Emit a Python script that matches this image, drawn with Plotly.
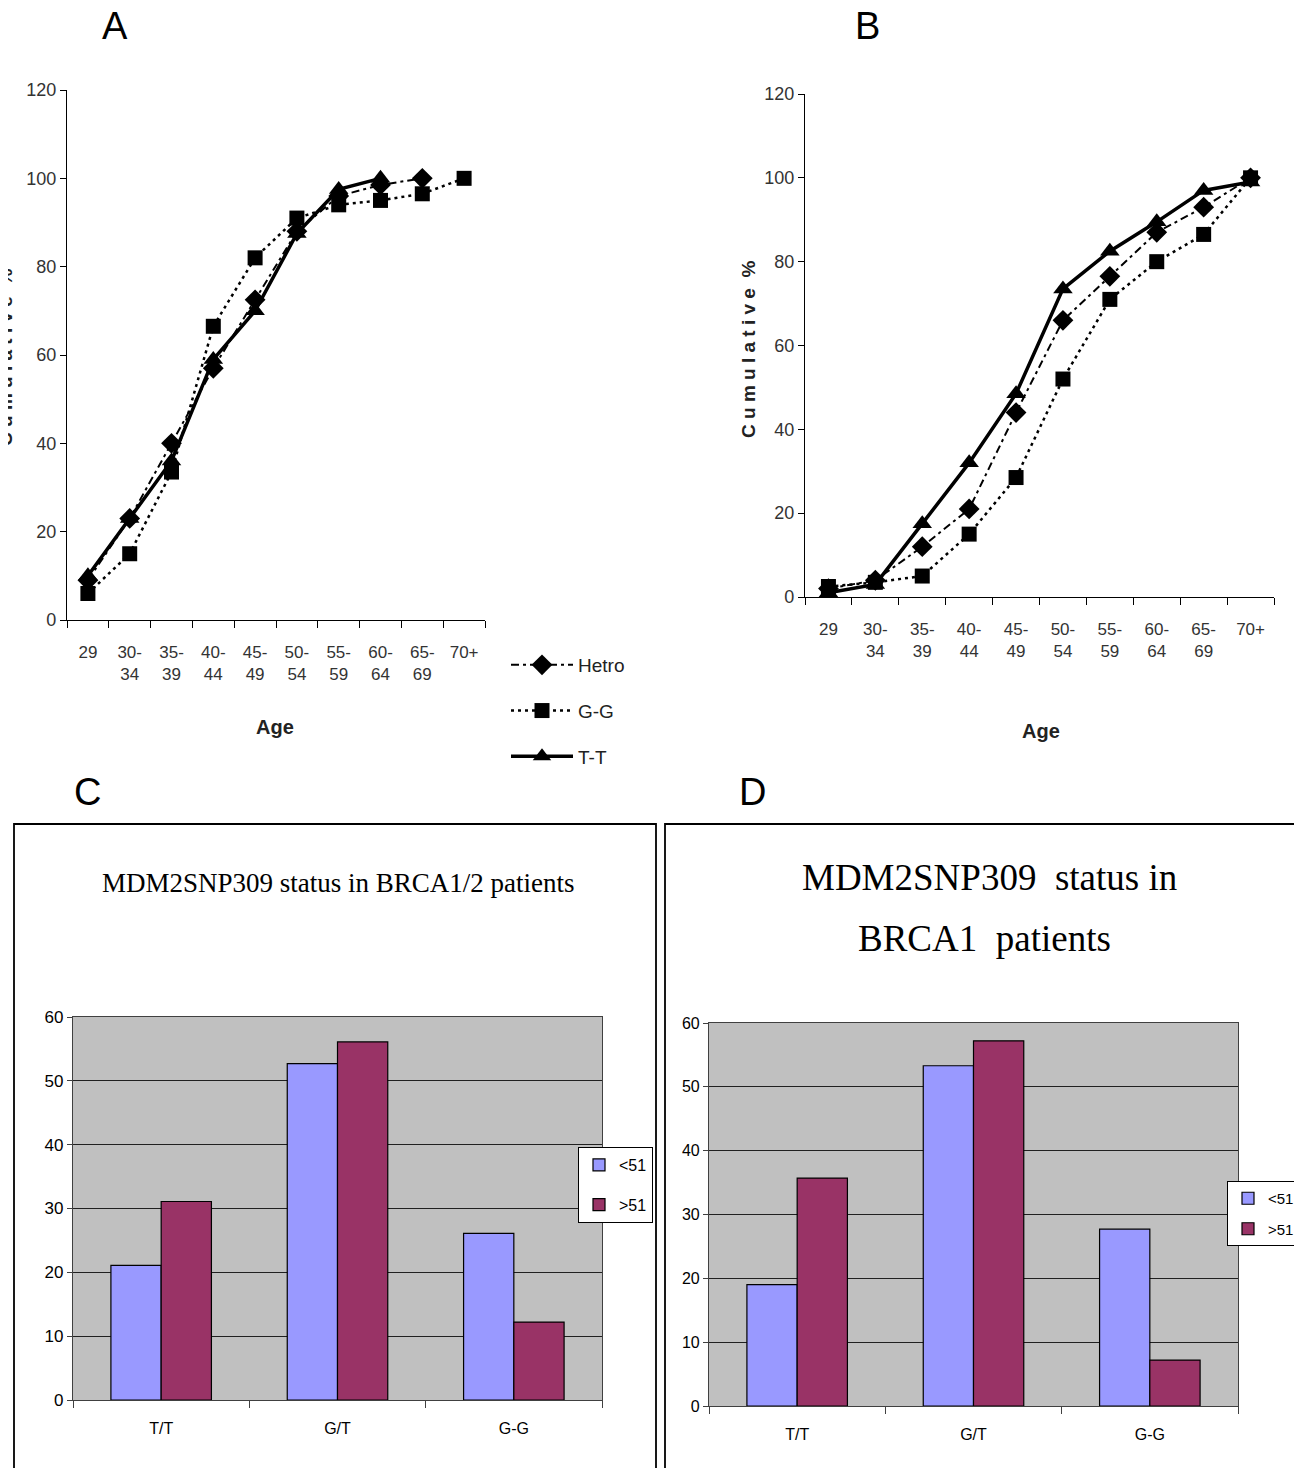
import plotly.graph_objects as go

W, H = 1302, 1468
OFF = 8  # the page body adds an 8px margin; positions below are in screenshot pixels

# ---------------- data ----------------
age_cats = ["29", "30-34", "35-39", "40-44", "45-49", "50-54", "55-59", "60-64", "65-69", "70+"]
age_ticktext = ["29", "30-<br>34", "35-<br>39", "40-<br>44", "45-<br>49", "50-<br>54",
                "55-<br>59", "60-<br>64", "65-<br>69", "70+"]

a_hetro = [9, 23, 40, 57, 72.5, 88, 96, 98.5, 100, None]
a_gg = [6, 15, 33.5, 66.5, 82, 91, 94, 95, 96.5, 100]
a_tt = [10, 23, 36, 59, 70, 87.5, 97.5, 100, None, None]

b_hetro = [2, 4, 12, 21, 44, 66, 76.5, 87, 93, 100]
b_gg = [2.5, 3.5, 5, 15, 28.5, 52, 71, 80, 86.5, 100]
b_tt = [1, 3, 17.5, 32, 48.5, 73.5, 82.5, 89.5, 97, 99]

genotypes = ["T/T", "G/T", "G-G"]
c_under51 = [21.1, 52.7, 26.1]
c_over51 = [31.1, 56.1, 12.2]
d_under51 = [19.0, 53.3, 27.7]
d_over51 = [35.7, 57.2, 7.2]

# ---------------- helpers ----------------
def px(x):
    return (x - OFF) / W

def py(y):
    return 1 - (y - OFF) / H

SANS = "Liberation Sans, Arial, sans-serif"
SERIF = "Liberation Serif, Times New Roman, serif"

fig = go.Figure()

styles = {
    "Hetro": dict(dash="8px,4px,3px,4px", width=2, symbol="diamond", size=16),
    "G-G": dict(dash="3px,4px", width=2.5, symbol="square", size=15),
    "T-T": dict(dash="solid", width=3.5, symbol="triangle-up", size=17),
}

for name, ys in [("Hetro", a_hetro), ("G-G", a_gg), ("T-T", a_tt)]:
    s = styles[name]
    fig.add_trace(go.Scatter(
        x=age_cats, y=ys, name=name, mode="lines+markers",
        line=dict(color="black", width=s["width"], dash=s["dash"]),
        marker=dict(symbol=s["symbol"], size=s["size"], color="black"),
        xaxis="x", yaxis="y", legend="legend", legendgroup=name, showlegend=True,
        connectgaps=False,
    ))

for name, ys in [("Hetro", b_hetro), ("G-G", b_gg), ("T-T", b_tt)]:
    s = styles[name]
    fig.add_trace(go.Scatter(
        x=age_cats, y=ys, name=name, mode="lines+markers",
        line=dict(color="black", width=s["width"], dash=s["dash"]),
        marker=dict(symbol=s["symbol"], size=s["size"], color="black"),
        xaxis="x2", yaxis="y2", showlegend=False,
    ))

BLUE = "#9999FF"
PLUM = "#993366"

for nm, vals, col in [("<51", c_under51, BLUE), (">51", c_over51, PLUM)]:
    fig.add_trace(go.Bar(
        x=genotypes, y=vals, name=nm, marker=dict(color=col, line=dict(color="black", width=1.2)),
        xaxis="x3", yaxis="y3", legend="legend2", legendgroup="c" + nm,
    ))
for nm, vals, col in [("<51", d_under51, BLUE), (">51", d_over51, PLUM)]:
    fig.add_trace(go.Bar(
        x=genotypes, y=vals, name=nm, marker=dict(color=col, line=dict(color="black", width=1.2)),
        xaxis="x4", yaxis="y4", legend="legend3", legendgroup="d" + nm,
    ))

line_x = dict(type="category", categoryarray=age_cats, tickvals=age_cats, ticktext=age_ticktext,
              range=[-0.5, 9.5], showline=True, linecolor="black", linewidth=1.2,
              ticks="outside", tickson="boundaries", ticklen=7, tickcolor="black",
              showgrid=False, zeroline=False, ticklabelstandoff=16, tickangle=0, automargin=False,
              tickfont=dict(family=SANS, size=17, color="#333333"))
line_y = dict(range=[0, 120], dtick=20, showline=True, linecolor="black", linewidth=1.2,
              ticks="outside", ticklen=6, tickcolor="black", showgrid=False, zeroline=False,
              automargin=False, tickfont=dict(family=SANS, size=18, color="#333333"))

bar_x = dict(type="category", range=[-0.5, 2.5], showline=True, linecolor="#404040", linewidth=1.2,
             mirror=True, ticks="outside", tickson="boundaries", ticklen=7, tickcolor="#404040",
             showgrid=False, zeroline=False, ticklabelstandoff=14, tickangle=0, automargin=False,
             tickfont=dict(family=SANS, size=16, color="black"))
bar_y = dict(range=[0, 60], dtick=10, showline=True, linecolor="#404040", linewidth=1.2, mirror=True,
             ticks="outside", ticklen=5, tickcolor="#404040", showgrid=True, gridcolor="#202020",
             gridwidth=1, zeroline=False, automargin=False)

fig.update_layout(
    width=W, height=H, margin=dict(l=0, r=0, t=0, b=0, pad=0), autosize=False,
    paper_bgcolor="white", plot_bgcolor="rgba(0,0,0,0)",
    barmode="group", bargap=0.43, bargroupgap=0,
    xaxis=dict(line_x, domain=[px(67), px(485)], anchor="y"),
    yaxis=dict(line_y, domain=[py(620), py(90)], anchor="x"),
    xaxis2=dict(line_x, domain=[px(805), px(1274)], anchor="y2"),
    yaxis2=dict(line_y, domain=[py(597), py(94)], anchor="x2"),
    xaxis3=dict(bar_x, domain=[px(73), px(602)], anchor="y3"),
    yaxis3=dict(bar_y, domain=[py(1400), py(1017)], anchor="x3",
                tickfont=dict(family=SANS, size=17, color="black")),
    xaxis4=dict(bar_x, domain=[px(709), px(1238)], anchor="y4",
                tickfont=dict(family=SANS, size=16, color="black")),
    yaxis4=dict(bar_y, domain=[py(1406), py(1023)], anchor="x4",
                tickfont=dict(family=SANS, size=16, color="black")),
    legend=dict(x=px(506), y=py(646),
                xanchor="left", yanchor="top",
                font=dict(family=SANS, size=19, color="#222222"),
                bgcolor="rgba(0,0,0,0)", tracegroupgap=18, itemwidth=62),
    legend2=dict(x=px(578), y=py(1147),
                 xanchor="left", yanchor="top",
                 font=dict(family=SANS, size=16, color="black"),
                 bgcolor="white", bordercolor="black", borderwidth=1, tracegroupgap=16,
                 itemwidth=30),
    legend3=dict(x=px(1300), y=py(1181),
                 xanchor="right", yanchor="top",
                 font=dict(family=SANS, size=15, color="black"),
                 bgcolor="white", bordercolor="black", borderwidth=1, tracegroupgap=8,
                 itemwidth=30),
)

# grey plot areas for the bar charts (drawn below traces)
for x0, x1, y0, y1 in [(73, 602, 1017, 1400), (709, 1238, 1023, 1406)]:
    fig.add_shape(type="rect", xref="paper", yref="paper", x0=px(x0), x1=px(x1), y0=py(y1), y1=py(y0),
                  fillcolor="#C0C0C0", line=dict(width=0), layer="below")

# panel boxes
fig.add_shape(type="rect", xref="paper", yref="paper", x0=px(14), x1=px(656), y0=py(1490), y1=py(824),
              line=dict(color="black", width=1.8), fillcolor="rgba(0,0,0,0)", layer="below")
fig.add_shape(type="rect", xref="paper", yref="paper", x0=px(665), x1=px(1320), y0=py(1490), y1=py(824),
              line=dict(color="black", width=1.8), fillcolor="rgba(0,0,0,0)", layer="below")

ann = []
for t, x, y in [("A", 115, 26), ("B", 867, 26), ("C", 87, 792), ("D", 752, 792)]:
    ann.append(dict(text=t, x=px(x), y=py(y), xref="paper", yref="paper", showarrow=False,
                    font=dict(family=SANS, size=38, color="black"), xanchor="center", yanchor="middle"))
for x, y in [(275, 727), (1041, 731)]:
    ann.append(dict(text="<b>Age</b>", x=px(x), y=py(y), xref="paper", yref="paper", showarrow=False,
                    font=dict(family=SANS, size=20, color="#222222"), xanchor="center", yanchor="middle"))
ylab = "<b>C u m u l a t i v e  %</b>"
ann.append(dict(text=ylab, x=px(748), y=py(350), xref="paper", yref="paper", showarrow=False,
                textangle=-90, font=dict(family=SANS, size=19, color="#222222"),
                xanchor="center", yanchor="middle"))
ann.append(dict(text=ylab, x=px(5), y=py(358), xref="paper", yref="paper", showarrow=False,
                textangle=-90, font=dict(family=SANS, size=19, color="#222222"),
                xanchor="center", yanchor="middle"))
ann.append(dict(text="MDM2SNP309 status in BRCA1/2 patients", x=px(339), y=py(883), xref="paper",
                yref="paper", showarrow=False, font=dict(family=SERIF, size=27, color="black"),
                xanchor="center", yanchor="middle"))
ann.append(dict(text="MDM2SNP309  status in", x=px(989), y=py(877), xref="paper",
                yref="paper", showarrow=False, font=dict(family=SERIF, size=37, color="black"),
                xanchor="center", yanchor="middle"))
ann.append(dict(text="BRCA1  patients", x=px(985), y=py(938), xref="paper",
                yref="paper", showarrow=False, font=dict(family=SERIF, size=37, color="black"),
                xanchor="center", yanchor="middle"))
fig.update_layout(annotations=ann)

fig.write_html("out.html")
